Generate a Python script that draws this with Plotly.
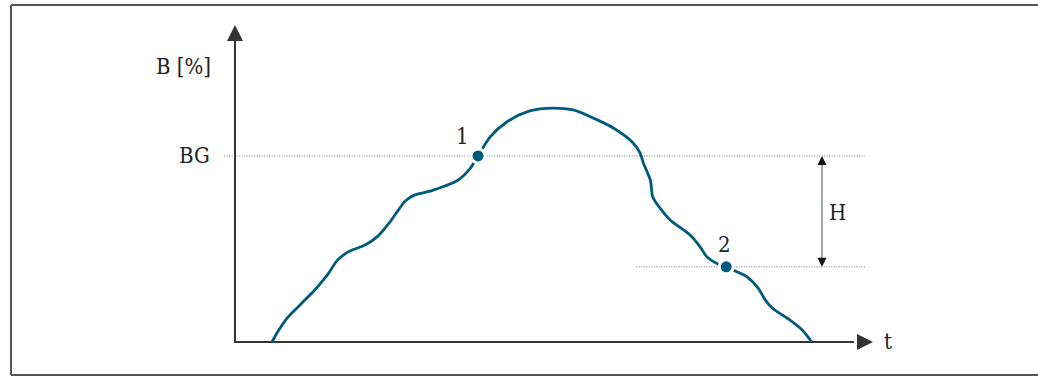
import plotly.graph_objects as go

# curve B(t) (t and B in axis units, 0..100)
t = [5.8, 6.7, 8.2, 10.2, 12.5, 14.6, 16.1, 18.0, 20.4, 22.4, 24.3, 25.6, 26.7,
     28.2, 30.6, 32.9, 35.0, 36.8, 38.1, 40.0, 42.6, 46.2, 49.8, 53.0, 56.1,
     59.3, 62.4, 63.5, 64.0, 65.1, 65.5, 66.6, 68.2, 71.3, 72.9, 74.0, 76.0,
     77.0, 78.4, 80.3, 82.0, 83.1, 84.2, 87.0, 88.9, 90.4]
B = [0.0, 3.2, 7.6, 11.7, 16.4, 21.5, 25.9, 28.7, 30.6, 33.4, 37.9, 41.6, 44.5,
     46.4, 47.6, 49.2, 51.1, 54.6, 58.7, 64.7, 69.4, 72.9, 73.8, 73.2, 70.7,
     67.5, 62.8, 59.6, 56.5, 51.1, 45.7, 42.3, 38.5, 33.8, 30.0, 26.8, 24.3,
     23.7, 22.4, 20.5, 17.0, 13.3, 10.7, 6.9, 3.8, 0.0]

BG = 58.7                # switch-on limit
point_t = [38.1, 77.0]   # points 1 and 2
point_B = [58.7, 23.7]
point_labels = ["1", "2"]
H_t = 92.0               # position of hysteresis arrow

curve_color = "#005a7c"
axis_color = "#333333"
font = dict(family="DejaVu Serif Condensed, Liberation Serif, serif", size=22,
            color="#222222")

fig = go.Figure()

# dotted reference lines
fig.add_trace(go.Scatter(x=[-1.7, 98.7], y=[BG, BG], mode="lines",
                         line=dict(color="#777777", width=1, dash="1px,1.5px"),
                         hoverinfo="skip"))
fig.add_trace(go.Scatter(x=[62.9, 98.9], y=[point_B[1], point_B[1]], mode="lines",
                         line=dict(color="#777777", width=1, dash="1px,1.5px"),
                         hoverinfo="skip"))

# axes with arrows
fig.add_trace(go.Scatter(x=[0, 0, 97], y=[96, 0, 0], mode="lines",
                         line=dict(color=axis_color, width=2), hoverinfo="skip"))
fig.add_trace(go.Scatter(x=[0], y=[100], mode="markers",
                         marker=dict(symbol="arrow-up", size=16, color=axis_color,
                                     line=dict(width=0)), hoverinfo="skip"))
fig.add_trace(go.Scatter(x=[100], y=[0], mode="markers",
                         marker=dict(symbol="arrow-right", size=16, color=axis_color,
                                     line=dict(width=0)), hoverinfo="skip"))

# hysteresis arrow H
fig.add_trace(go.Scatter(x=[H_t, H_t], y=[BG - 2, point_B[1] + 2], mode="lines",
                         line=dict(color="#888888", width=1.5), hoverinfo="skip"))
fig.add_trace(go.Scatter(x=[H_t], y=[BG], mode="markers",
                         marker=dict(symbol="arrow-up", size=9, color="#111111",
                                     line=dict(width=0)), hoverinfo="skip"))
fig.add_trace(go.Scatter(x=[H_t], y=[point_B[1]], mode="markers",
                         marker=dict(symbol="arrow-down", size=9, color="#111111",
                                     line=dict(width=0)), hoverinfo="skip"))

# the curve and its two points
fig.add_trace(go.Scatter(x=t, y=B, mode="lines",
                         line=dict(color=curve_color, width=2.8, shape="spline",
                                   smoothing=0.8)))
fig.add_trace(go.Scatter(x=point_t, y=point_B, mode="markers",
                         marker=dict(size=14, color=curve_color,
                                     line=dict(color="white", width=3))))

# labels
labels = [
    (-8.0, 86.8, "B [%]", "center"),
    (-3.6, BG, "BG", "right"),
    (35.6, 64.7, point_labels[0], "center"),
    (76.8, 30.6, point_labels[1], "center"),
    (94.4, 40.7, "H", "center"),
    (102.4, 0.2, "t", "center"),
]
for x, y, txt, align in labels:
    fig.add_annotation(x=x, y=y, text=txt, showarrow=False, font=font,
                       xanchor=align, yanchor="middle")

# outer frame (open on the right, it runs past the picture edge)
x0, y0, y1 = 11 / 1038, 1 - 375 / 378, 1 - 5 / 378
frame = dict(color="#555555", width=2)
fig.add_shape(type="line", xref="paper", yref="paper", x0=x0, x1=1.1, y0=y1, y1=y1, line=frame)
fig.add_shape(type="line", xref="paper", yref="paper", x0=x0, x1=1.1, y0=y0, y1=y0, line=frame)
fig.add_shape(type="line", xref="paper", yref="paper", x0=x0, x1=x0, y0=y0, y1=y1, line=frame)

fig.update_layout(
    width=1038, height=378,
    margin=dict(l=0, r=0, t=0, b=0),
    paper_bgcolor="white", plot_bgcolor="white",
    showlegend=False,
    xaxis=dict(range=[-36.83, 125.86], visible=False, fixedrange=True),
    yaxis=dict(range=[-11.36, 107.89], visible=False, fixedrange=True),
)

fig.write_html("out.html", config={"displayModeBar": False},
               post_script="document.body.style.margin='0';"
                           "document.body.style.overflow='hidden';")
